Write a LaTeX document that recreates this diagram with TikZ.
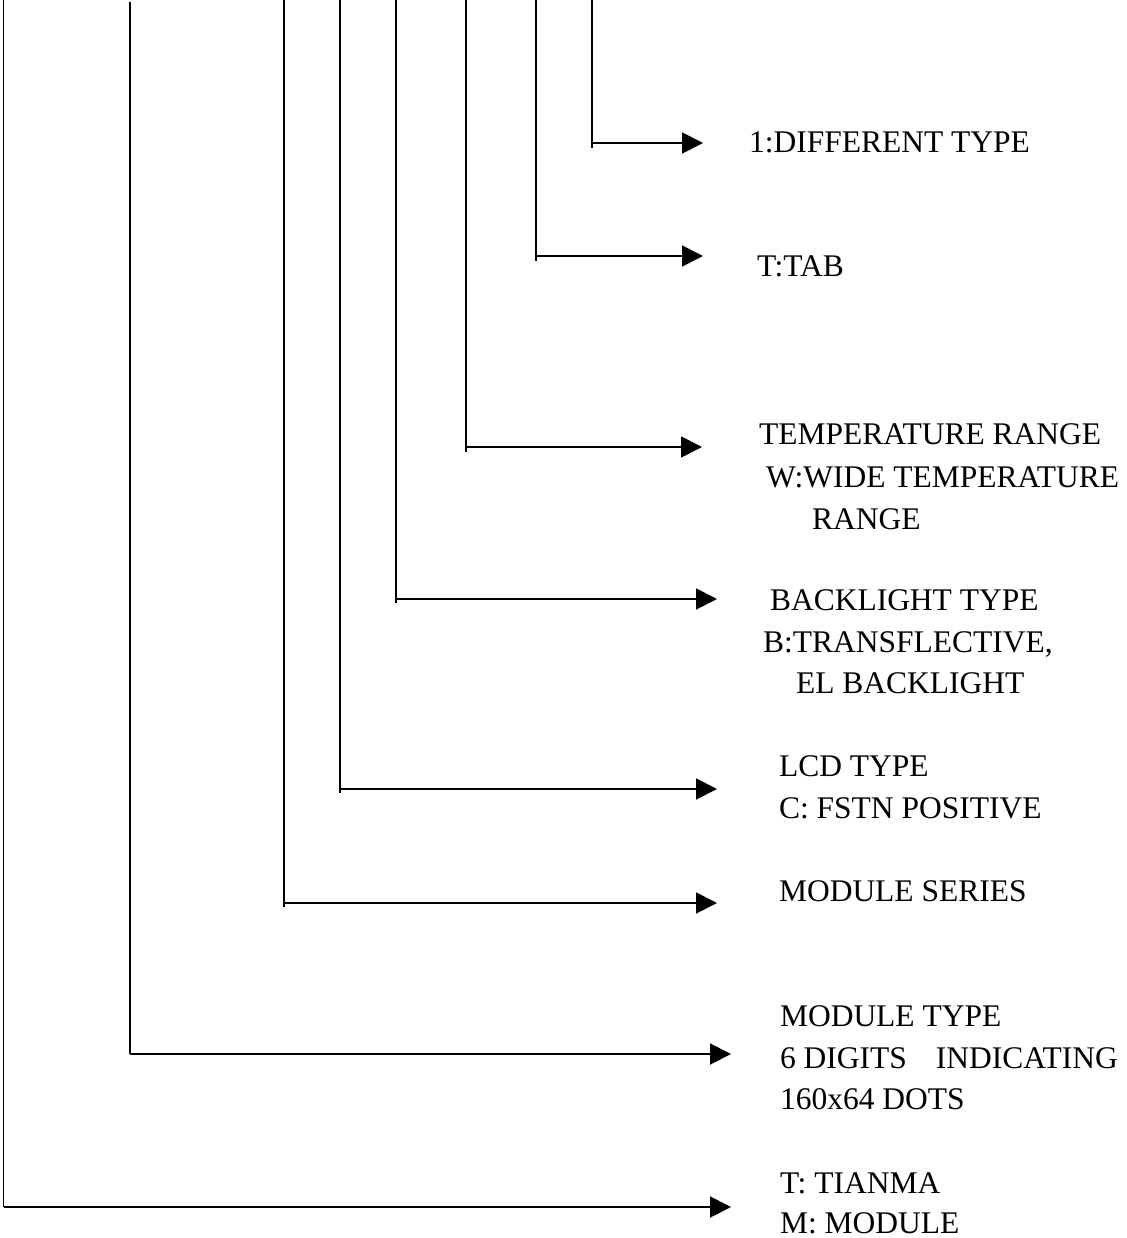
\documentclass[tikz,border=0pt]{standalone}
\usepackage{fontspec}
\setmainfont{Liberation Serif}
\usetikzlibrary{arrows.meta}
\begin{document}
\begin{tikzpicture}[x=1pt,y=-1pt,
  conn/.style={line width=1.9pt,black},
  arr/.style={line width=1.9pt,black,-{Triangle[length=21pt,width=21pt]}},
  lbl/.style={anchor=base west,inner sep=0pt,outer sep=0pt,font=\fontsize{31.5}{40}\selectfont}]
\useasboundingbox (0,0) rectangle (1126,1238);
% tops of the vertical lines
\coordinate (top1) at (592,0);
\coordinate (top2) at (536,0);
\coordinate (top3) at (466,0);
\coordinate (top4) at (396,0);
\coordinate (top5) at (340,0);
\coordinate (top6) at (284,0);
\coordinate (top7) at (130,2);
\coordinate (top8) at (3.5,0);
% corners
\coordinate (c1) at (592,143);
\coordinate (c2) at (536,256);
\coordinate (c3) at (466,447);
\coordinate (c4) at (396,599);
\coordinate (c5) at (340,789);
\coordinate (c6) at (284,903);
\coordinate (c7) at (130,1054);
\coordinate (c8) at (3.5,1207);
% arrow tips
\coordinate (a1) at (703,143);
\coordinate (a2) at (703,256);
\coordinate (a3) at (702,447);
\coordinate (a4) at (717,599);
\coordinate (a5) at (717,789);
\coordinate (a6) at (717,903);
\coordinate (a7) at (731,1054);
\coordinate (a8) at (731,1207);
% labels
\node[lbl] (t1) at (749,153) {1:DIFFERENT TYPE};
\node[lbl] (t2) at (757,277) {T:TAB};
\node[lbl] (t3a) at (759,444) {TEMPERATURE RANGE};
\node[lbl] (t3b) at (766,487) {W:WIDE TEMPERATURE};
\node[lbl] (t3c) at (812,529) {RANGE};
\node[lbl] (t4a) at (770,610) {BACKLIGHT TYPE};
\node[lbl] (t4b) at (763,652) {B:TRANSFLECTIVE,};
\node[lbl] (t4c) at (796,693) {EL BACKLIGHT};
\node[lbl] (t5a) at (779,776) {LCD TYPE};
\node[lbl] (t5b) at (779,818) {C: FSTN POSITIVE};
\node[lbl] (t6) at (779,901) {MODULE SERIES};
\node[lbl] (t7a) at (780,1026) {MODULE TYPE};
\node[lbl] (t7b) at (780,1068) {6 DIGITS\hspace{29pt}INDICATING};
\node[lbl] (t7c) at (780,1109) {160x64 DOTS};
\node[lbl] (t8a) at (780,1193) {T: TIANMA};
\node[lbl] (t8b) at (780,1233) {M: MODULE};
% connectors
\draw[conn] (top1) -- (c1) -- ++(0,5);
\draw[arr] (c1) -- (a1);
\draw[conn] (top2) -- (c2) -- ++(0,5);
\draw[arr] (c2) -- (a2);
\draw[conn] (top3) -- (c3) -- ++(0,5);
\draw[arr] (c3) -- (a3);
\draw[conn] (top4) -- (c4) -- ++(0,4);
\draw[arr] (c4) -- (a4);
\draw[conn] (top5) -- (c5) -- ++(0,4);
\draw[arr] (c5) -- (a5);
\draw[conn] (top6) -- (c6) -- ++(0,4);
\draw[arr] (c6) -- (a6);
\draw[conn] (top7) -- (c7);
\draw[arr] (c7) -- (a7);
\draw[conn] (top8) -- (c8);
\draw[arr] (c8) -- (a8);
\end{tikzpicture}
\end{document}
